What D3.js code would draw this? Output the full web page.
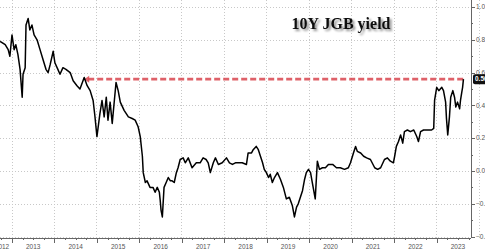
<!DOCTYPE html>
<html>
<head>
<meta charset="utf-8">
<script src="https://cdn.jsdelivr.net/npm/d3@7"></script>
<style>
  body { margin: 0; background: #fff; }
  svg { display: block; }
</style>
</head>
<body>
<div id="chart"></div>
<script>
// 10Y JGB yield, decimal year / percent
var dates = [2012.72, 2012.84, 2012.91, 2012.95, 2013.00, 2013.05, 2013.09, 2013.14, 2013.19, 2013.24,
  2013.26, 2013.31, 2013.33, 2013.38, 2013.42, 2013.47, 2013.52, 2013.59, 2013.66, 2013.73,
  2013.80, 2013.85, 2013.90, 2013.97, 2014.01, 2014.08, 2014.13, 2014.20, 2014.27, 2014.37,
  2014.44, 2014.53, 2014.60, 2014.70, 2014.77, 2014.84, 2014.91, 2014.95, 2015.00, 2015.07,
  2015.12, 2015.17, 2015.22, 2015.26, 2015.31, 2015.36, 2015.41, 2015.45, 2015.50, 2015.55,
  2015.64, 2015.74, 2015.83, 2015.90, 2015.97, 2016.02, 2016.07, 2016.09, 2016.14, 2016.18,
  2016.25, 2016.32, 2016.37, 2016.42, 2016.47, 2016.49, 2016.51, 2016.54, 2016.58, 2016.63,
  2016.68, 2016.73, 2016.77, 2016.82, 2016.87, 2016.91, 2016.96, 2017.03, 2017.08, 2017.15,
  2017.24, 2017.34, 2017.43, 2017.50, 2017.57, 2017.62, 2017.67, 2017.74, 2017.79, 2017.86,
  2017.95, 2018.05, 2018.12, 2018.19, 2018.26, 2018.33, 2018.42, 2018.52, 2018.56, 2018.64,
  2018.68, 2018.75, 2018.80, 2018.85, 2018.90, 2018.94, 2018.99, 2019.04, 2019.08, 2019.13,
  2019.18, 2019.25, 2019.32, 2019.39, 2019.46, 2019.53, 2019.60, 2019.65, 2019.70, 2019.74,
  2019.79, 2019.84, 2019.89, 2019.93, 2019.98, 2020.03, 2020.07, 2020.14, 2020.19, 2020.24,
  2020.31, 2020.38, 2020.45, 2020.55, 2020.64, 2020.73, 2020.83, 2020.92, 2020.97, 2021.04,
  2021.09, 2021.13, 2021.21, 2021.28, 2021.35, 2021.44, 2021.54, 2021.61, 2021.68, 2021.77,
  2021.84, 2021.91, 2021.98, 2022.01, 2022.05, 2022.10, 2022.15, 2022.20, 2022.24, 2022.31,
  2022.38, 2022.46, 2022.53, 2022.57, 2022.62, 2022.69, 2022.79, 2022.88, 2022.93, 2022.95,
  2023.00, 2023.05, 2023.12, 2023.16, 2023.21, 2023.23, 2023.26, 2023.30, 2023.33, 2023.38,
  2023.42, 2023.45, 2023.49, 2023.54, 2023.56, 2023.59, 2023.61, 2023.63];

var yields = [0.79, 0.77, 0.74, 0.70, 0.83, 0.74, 0.77, 0.71, 0.62, 0.45,
  0.59, 0.63, 0.89, 0.93, 0.86, 0.89, 0.83, 0.80, 0.74, 0.68,
  0.62, 0.60, 0.65, 0.73, 0.66, 0.62, 0.59, 0.63, 0.62, 0.60,
  0.55, 0.52, 0.50, 0.57, 0.52, 0.49, 0.43, 0.34, 0.21, 0.35,
  0.43, 0.33, 0.45, 0.31, 0.42, 0.29, 0.43, 0.54, 0.49, 0.42,
  0.37, 0.33, 0.32, 0.31, 0.27, 0.21, 0.09, -0.01, -0.07, -0.06,
  -0.10, -0.10, -0.13, -0.10, -0.13, -0.18, -0.24, -0.28, -0.10, -0.07,
  -0.04, -0.06, -0.06, -0.07, -0.01, 0.02, 0.07, 0.08, 0.05, 0.08,
  0.02, 0.05, 0.05, 0.08, 0.07, 0.05, -0.01, 0.05, 0.08, 0.04,
  0.05, 0.08, 0.05, 0.04, 0.05, 0.05, 0.05, 0.04, 0.11, 0.11,
  0.13, 0.15, 0.13, 0.09, 0.05, 0.01, -0.01, -0.04, -0.02, -0.07,
  -0.04, -0.01, -0.05, -0.10, -0.17, -0.16, -0.21, -0.28, -0.22, -0.20,
  -0.16, -0.12, -0.05, -0.01, 0.01, -0.01, -0.07, -0.17, 0.06, 0.01,
  0.02, 0.02, 0.04, 0.04, 0.02, 0.02, 0.01, 0.02, 0.05, 0.11,
  0.15, 0.12, 0.11, 0.09, 0.08, 0.07, 0.02, 0.01, 0.02, 0.07,
  0.08, 0.06, 0.05, 0.09, 0.15, 0.18, 0.22, 0.17, 0.24, 0.25,
  0.24, 0.25, 0.21, 0.18, 0.24, 0.25, 0.25, 0.25, 0.26, 0.43,
  0.51, 0.49, 0.51, 0.49, 0.42, 0.32, 0.22, 0.33, 0.45, 0.49,
  0.45, 0.39, 0.42, 0.38, 0.43, 0.48, 0.51, 0.56];

var years = [2012, 2013, 2014, 2015, 2016, 2017, 2018, 2019, 2020, 2021, 2022, 2023];
var yTicks = [-0.4, -0.2, 0.0, 0.2, 0.4, 0.6, 0.8, 1.0];
var refLevel = 0.56;
var refStart = 2014.70;
var lastLabel = "0.56";
var title = "10Y JGB yield";

var width = 485, height = 252;
var axisX = 471, axisY = 238;

var svg = d3.select("#chart").append("svg")
    .attr("width", width)
    .attr("height", height);

var x = d3.scaleLinear().domain([2013, 2023]).range([12, 436.7]);
var y = d3.scaleLinear().domain([0, 1]).range([171, 7]);

var data = dates.map(function(d, i) { return { t: d, v: yields[i] }; });

// grid
var grid = svg.append("g");
grid.selectAll(".vg").data(years.slice(1).concat([2024])).enter().append("line")
    .attr("x1", function(d) { return x(d); })
    .attr("x2", function(d) { return x(d); })
    .attr("y1", 0).attr("y2", axisY)
    .style("stroke", "#c8c8c8")
    .style("stroke-dasharray", "1,2")
    .style("shape-rendering", "crispEdges");

grid.selectAll(".hg").data(yTicks).enter().append("line")
    .attr("x1", 0).attr("x2", axisX)
    .attr("y1", function(d) { return Math.round(y(d)) + 0.5; })
    .attr("y2", function(d) { return Math.round(y(d)) + 0.5; })
    .style("stroke", "#c8c8c8")
    .style("stroke-dasharray", "1,2");

// bottom axis
svg.append("line")
    .attr("x1", 0).attr("x2", axisX)
    .attr("y1", axisY + 0.5).attr("y2", axisY + 0.5)
    .style("stroke", "#666");

var quarters = d3.range(2012, 2024.01, 0.25).filter(function(d) { return x(d) >= 0 && x(d) <= axisX; });
svg.selectAll(".qt").data(quarters).enter().append("line")
    .attr("x1", function(d) { return Math.round(x(d)) + 0.5; })
    .attr("x2", function(d) { return Math.round(x(d)) + 0.5; })
    .attr("y1", axisY)
    .attr("y2", function(d) { return d % 1 === 0 ? axisY + 5 : axisY + 2; })
    .style("stroke", "#666");

svg.selectAll(".yl").data(years).enter().append("text")
    .attr("x", function(d) { return Math.max(x(d + 0.5), 2); })
    .attr("y", 249)
    .attr("text-anchor", "middle")
    .style("font-family", "'Liberation Sans', Arial, sans-serif")
    .style("font-size", "6.5px")
    .style("fill", "#555")
    .text(function(d) { return d; });

// right axis
svg.append("line")
    .attr("x1", axisX + 0.5).attr("x2", axisX + 0.5)
    .attr("y1", 0).attr("y2", axisY)
    .style("stroke", "#666");

svg.selectAll(".ymt").data(d3.range(-0.4, 1.05, 0.1)).enter().append("line")
    .attr("x1", axisX)
    .attr("x2", function(d, i) { return i % 2 === 0 ? axisX + 4 : axisX + 2; })
    .attr("y1", function(d) { return Math.round(y(d)) + 0.5; })
    .attr("y2", function(d) { return Math.round(y(d)) + 0.5; })
    .style("stroke", "#666");

svg.selectAll(".ytl").data(yTicks).enter().append("text")
    .attr("x", axisX + 5)
    .attr("y", function(d) { return y(d) + 2.2; })
    .style("font-family", "'Liberation Sans', Arial, sans-serif")
    .style("font-size", "6.5px")
    .style("fill", "#555")
    .text(function(d) { return d3.format(".2f")(d); });

// reference dashed line with arrow
var refY = y(refLevel);
svg.append("line")
    .attr("x1", x(refStart) + 4).attr("x2", x(dates[dates.length - 1]))
    .attr("y1", refY).attr("y2", refY)
    .style("stroke", "#d9464f")
    .style("stroke-width", 2.6)
    .style("stroke-dasharray", "6,3")
    .style("opacity", 0.85);

svg.append("path")
    .attr("d", "M" + x(refStart) + "," + refY + "l5,-3.5v7z")
    .style("fill", "#d9464f")
    .style("opacity", 0.85);

// series
var line = d3.line()
    .x(function(d) { return x(d.t); })
    .y(function(d) { return y(d.v); });

svg.append("path")
    .datum(data)
    .attr("d", line)
    .style("fill", "none")
    .style("stroke", "#000")
    .style("stroke-width", 1.5)
    .style("stroke-linejoin", "round");

// last value label
var lastY = y(yields[yields.length - 1]);
svg.append("rect")
    .attr("x", axisX + 2).attr("y", lastY - 5)
    .attr("width", 20).attr("height", 10)
    .attr("rx", 2)
    .style("fill", "#111");
svg.append("text")
    .attr("x", axisX + 4).attr("y", lastY + 2.3)
    .style("font-family", "'Liberation Sans', Arial, sans-serif")
    .style("font-size", "6.5px")
    .style("font-weight", "bold")
    .style("fill", "#fff")
    .text(lastLabel);

// title with soft shadow
var defs = svg.append("defs");
var f = defs.append("filter").attr("id", "shadow")
    .attr("x", "-10%").attr("y", "-30%").attr("width", "130%").attr("height", "180%");
f.append("feDropShadow")
    .attr("dx", 2).attr("dy", 2)
    .attr("stdDeviation", 1.2)
    .attr("flood-color", "#000")
    .attr("flood-opacity", 0.45);

svg.append("text")
    .attr("x", 341)
    .attr("y", 29)
    .attr("text-anchor", "middle")
    .attr("filter", "url(#shadow)")
    .style("font-family", "'Liberation Serif', 'Times New Roman', serif")
    .style("font-size", "16px")
    .style("font-weight", "bold")
    .style("fill", "#111")
    .text(title);
</script>
</body>
</html>
